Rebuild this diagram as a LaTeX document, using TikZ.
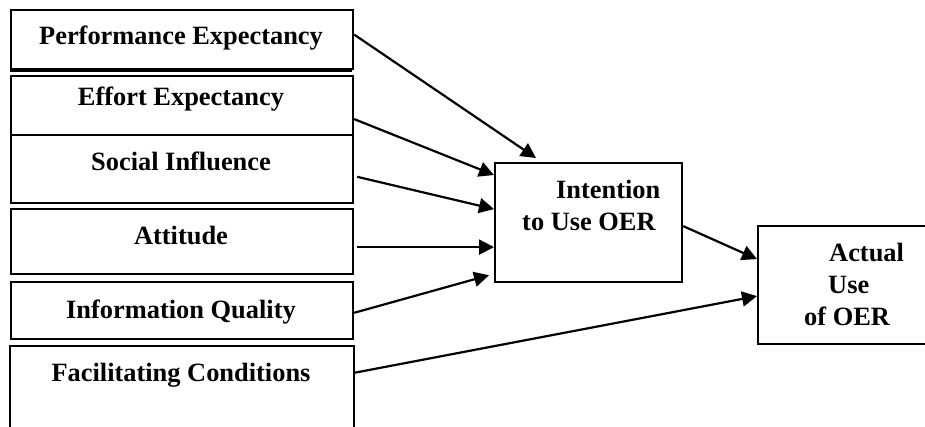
\documentclass[tikz,border=0pt]{standalone}
\usepackage{fontspec}
\setmainfont{Liberation Serif}
\usepackage{tikz}
\usetikzlibrary{positioning,arrows.meta}

\begin{document}
\begin{tikzpicture}[x=1pt,y=-1pt,
    box/.style={draw, line width=2.2pt, inner sep=0pt, anchor=north west},
    factor/.style={box, minimum width=342pt},
    lbl/.style={font=\fontsize{26.4}{31.6}\selectfont\bfseries, inner sep=0pt, anchor=base},
    arr/.style={line width=2.2pt, -{Triangle[length=15pt,width=15pt]}}]

    \useasboundingbox (0,0) rectangle (925,426);

    % factors on the left
    \foreach \n/\y/\h/\b/\t in {pe/9/59/44.3/Performance Expectancy,
                                ee/75/59/105/Effort Expectancy,
                                si/134/68/170.7/Social Influence,
                                att/208/65/244.3/Attitude,
                                iq/281/57/318.3/Information Quality}
    {
        \node[factor, minimum height=\h pt] (\n) at (10,\y) {};
        \node[lbl] (\n txt) at (181,\b) {\t};
    }
    \draw[line width=1.2pt] (10,71) -- (352,71);

    \node[factor, draw=none, minimum height=80pt] (fc) at (10,346) {};
    \draw[line width=2.2pt] (fc.south west) |- (fc.north east) -- (fc.south east);
    \node[lbl] (fctxt) at (181,381.7) {Facilitating Conditions};

    % intention and use
    \node[box, minimum width=187pt, minimum height=119pt] (intent) at (494,162) {};
    \node[lbl, anchor=base west, align=left] (intenttxt) at (522,230)
        {\hspace*{34pt}Intention\\to Use OER};

    \node[box, minimum width=172pt, minimum height=118pt] (use) at (757,225) {};
    \node[lbl, anchor=base west, align=left] (usetxt) at (804,325)
        {\hspace*{25pt}Actual\\\hspace*{24pt}Use\\of OER};

    % paths
    \draw[arr] ([yshift=5pt]pe.east) -- ([xshift=42pt,yshift=4pt]intent.north west);
    \draw[arr] ([yshift=-13.5pt]ee.east) -- ([yshift=-13pt]intent.north west);
    \draw[arr] ([xshift=3pt,yshift=-7.7pt]si.east) -- ([yshift=13.5pt]intent.west);
    \draw[arr] ([xshift=3pt,yshift=-5.5pt]att.east) -- ([yshift=-24.5pt]intent.west);
    \draw[arr] ([yshift=-2.2pt]iq.east) -- ([xshift=-5pt,yshift=8pt]intent.south west);
    \draw[arr] ([yshift=14.3pt]fc.east) -- ([yshift=-11pt]use.west);
    \draw[arr] ([yshift=-3.5pt]intent.east) -- ([yshift=26pt]use.west);

\end{tikzpicture}
\end{document}
